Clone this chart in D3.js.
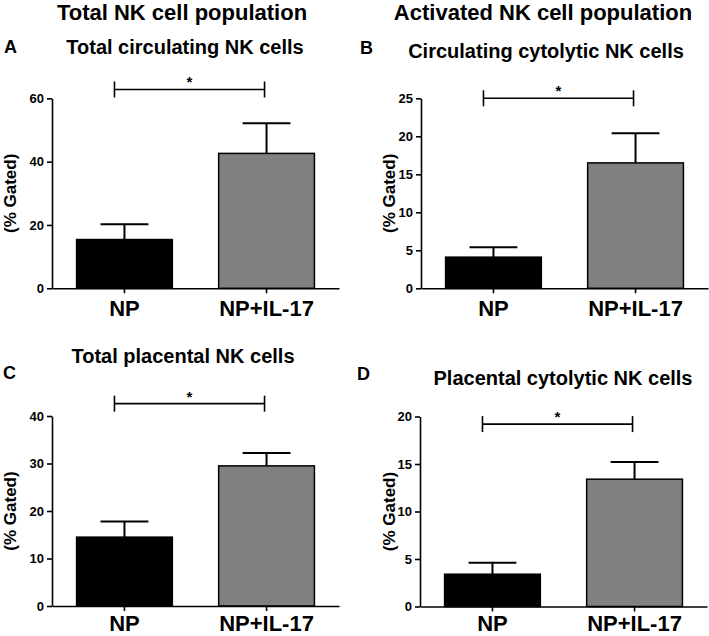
<!DOCTYPE html>
<html>
<head>
<meta charset="utf-8">
<script src="https://cdn.jsdelivr.net/npm/d3@7"></script>
<style>
  html, body { margin: 0; padding: 0; background: #fff; }
  svg { display: block; font-family: Arial, "Liberation Sans", sans-serif; }
</style>
</head>
<body>
<svg id="chart" width="709" height="636"></svg>
<script>
// ---- data ----
const categories = ["NP", "NP+IL-17"];
const headers = ["Total NK cell population", "Activated NK cell population"];
const panelLetters = ["A", "B", "C", "D"];
const panelTitles = ["Total circulating NK cells", "Circulating cytolytic NK cells",
                     "Total placental NK cells", "Placental cytolytic NK cells"];
const meanA = [15.4, 42.6];
const semA  = [4.8, 9.5];
const meanB = [4.1, 16.5];
const semB  = [1.3, 3.9];
const meanC = [14.5, 29.5];
const semC  = [3.3, 2.7];
const meanD = [3.4, 13.4];
const semD  = [1.2, 1.8];
const ticksA = [0, 20, 40, 60];
const ticksB = [0, 5, 10, 15, 20, 25];
const ticksC = [0, 10, 20, 30, 40];
const ticksD = [0, 5, 10, 15, 20];
const yLabel = "(% Gated)";
const sigLabel = "*";
// bracket heights in data units
const bracketLevel = [62.8, 25, 42.6, 19.2];

// ---- layout ----
const svg = d3.select("#chart");
const fillColors = ["#000000", "#808080"];

const panels = [
  {mean: meanA, sem: semA, ticks: ticksA, x0: 52, x1: 339, yTop: 98.3, yBot: 288.3, pad: 7,
   letter: {x: 4, y: 53}, title: {x: 185, y: 54}, ylab: {x: 16}},
  {mean: meanB, sem: semB, ticks: ticksB, x0: 421, x1: 708, yTop: 98.3, yBot: 288.3, pad: 7,
   letter: {x: 360, y: 54}, title: {x: 546, y: 58}, ylab: {x: 395}},
  {mean: meanC, sem: semC, ticks: ticksC, x0: 52, x1: 339, yTop: 416, yBot: 606, pad: 4,
   letter: {x: 3, y: 379}, title: {x: 183, y: 363}, ylab: {x: 16}},
  {mean: meanD, sem: semD, ticks: ticksD, x0: 420, x1: 707, yTop: 416.5, yBot: 606.5, pad: 4,
   letter: {x: 357, y: 380}, title: {x: 563, y: 385}, ylab: {x: 395}}
];

// headers
svg.selectAll("text.header").data(headers).join("text")
  .attr("class", "header")
  .attr("x", (d, i) => i === 0 ? 182 : 543)
  .attr("y", 20)
  .attr("text-anchor", "middle")
  .attr("font-size", 22).attr("font-weight", "bold")
  .text(d => d);

panels.forEach((p, pi) => {
  const g = svg.append("g");
  const y = d3.scaleLinear()
    .domain([0, d3.max(p.ticks)])
    .range([p.yBot, p.yTop]);
  const x = d3.scaleBand()
    .domain(categories)
    .range([p.x0, p.x1])
    .paddingInner(0.326)
    .paddingOuter(0.173);

  // letter & title
  g.append("text").attr("x", p.letter.x).attr("y", p.letter.y)
    .attr("font-size", 18).attr("font-weight", "bold").text(panelLetters[pi]);
  g.append("text").attr("x", p.title.x).attr("y", p.title.y)
    .attr("text-anchor", "middle")
    .attr("font-size", 20).attr("font-weight", "bold").text(panelTitles[pi]);

  // bars
  g.selectAll("rect.bar").data(categories).join("rect")
    .attr("class", "bar")
    .attr("x", d => x(d))
    .attr("width", x.bandwidth())
    .attr("y", (d, i) => y(p.mean[i]))
    .attr("height", (d, i) => y(0) - y(p.mean[i]))
    .attr("fill", (d, i) => fillColors[i])
    .attr("stroke", "#000").attr("stroke-width", 1.5);

  // error bars (upper only)
  const capHalf = x.bandwidth() / 4;
  categories.forEach((c, i) => {
    const cx = x(c) + x.bandwidth() / 2;
    const top = y(p.mean[i] + p.sem[i]);
    g.append("line").attr("x1", cx).attr("x2", cx)
      .attr("y1", y(p.mean[i])).attr("y2", top)
      .attr("stroke", "#000").attr("stroke-width", 2);
    g.append("line").attr("x1", cx - capHalf).attr("x2", cx + capHalf)
      .attr("y1", top).attr("y2", top)
      .attr("stroke", "#000").attr("stroke-width", 2);
  });

  // y axis
  const yAxis = g.append("g")
    .attr("transform", `translate(${p.x0},0)`)
    .call(d3.axisLeft(y).tickValues(p.ticks).tickSize(5).tickSizeOuter(0).tickPadding(3));
  yAxis.select(".domain").attr("stroke", "#000").attr("stroke-width", 1.6);
  yAxis.selectAll(".tick line").attr("stroke", "#000").attr("stroke-width", 1.6);
  yAxis.selectAll(".tick text").attr("font-size", 13).attr("font-weight", "bold")
    .attr("fill", "#000").attr("font-family", "Arial, 'Liberation Sans', sans-serif");

  // x axis
  const xAxis = g.append("g")
    .attr("transform", `translate(0,${p.yBot})`)
    .call(d3.axisBottom(x).tickSize(5).tickSizeOuter(0).tickPadding(p.pad));
  xAxis.select(".domain").attr("stroke", "#000").attr("stroke-width", 1.6);
  xAxis.selectAll(".tick line").attr("stroke", "#000").attr("stroke-width", 1.6);
  xAxis.selectAll(".tick text").attr("font-size", 22).attr("font-weight", "bold")
    .attr("fill", "#000").attr("font-family", "Arial, 'Liberation Sans', sans-serif");

  // y label
  g.append("text")
    .attr("transform", `translate(${p.ylab.x},${(p.yTop + p.yBot) / 2}) rotate(-90)`)
    .attr("text-anchor", "middle")
    .attr("font-size", 17).attr("font-weight", "bold")
    .text(yLabel);

  // significance bracket
  const bl = x(categories[0]) + x.bandwidth() / 2 - 10;
  const br = x(categories[1]) + x.bandwidth() / 2 - 2;
  const by = y(bracketLevel[pi]);
  const bg = g.append("g").attr("stroke", "#000").attr("stroke-width", 1.6);
  bg.append("line").attr("x1", bl).attr("x2", br).attr("y1", by).attr("y2", by);
  bg.append("line").attr("x1", bl).attr("x2", bl).attr("y1", by - 8).attr("y2", by + 8);
  bg.append("line").attr("x1", br).attr("x2", br).attr("y1", by - 8).attr("y2", by + 8);
  g.append("text").attr("x", (bl + br) / 2).attr("y", by - 2)
    .attr("text-anchor", "middle").attr("font-size", 15).attr("font-weight", "bold")
    .text(sigLabel);
});
</script>
</body>
</html>
